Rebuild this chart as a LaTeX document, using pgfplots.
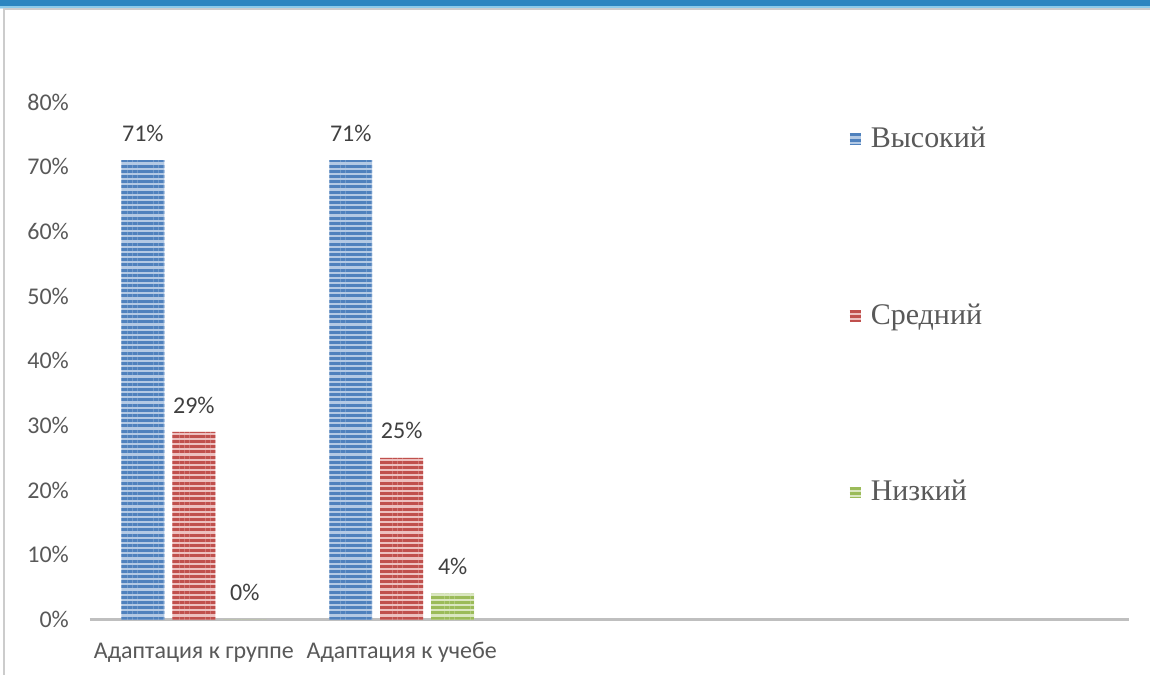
\documentclass[border=0pt]{standalone}
\usepackage{pgfplots}
\pgfplotsset{compat=1.18}
\usepackage{fontspec}
\setmainfont{Carlito}
\newfontfamily\legfont{Liberation Serif}
\usetikzlibrary{patterns.meta}
\definecolor{bdark}{HTML}{4F81BD}
\definecolor{blight}{HTML}{B3C9E4}
\definecolor{rdark}{HTML}{C0504D}
\definecolor{rlight}{HTML}{EDC0BF}
\definecolor{gdark}{HTML}{9BBB59}
\definecolor{glight}{HTML}{DAE7C0}
\definecolor{txt}{HTML}{404040}
\definecolor{tick}{HTML}{595959}
\definecolor{band}{HTML}{2C86C0}
\definecolor{bandl}{HTML}{8CCBEA}
\tikzset{
  stripes/.style={fill=#1light, postaction={pattern={Lines[angle=0,distance=2.6pt,line width=1.5pt]}, pattern color=#1dark}},
}
\begin{document}
\begin{tikzpicture}
\path[fill=white] (0,0) rectangle (575.5pt,337.5pt);
\fill[band] (0,334.5pt) rectangle (575.5pt,337.5pt);
\fill[bandl] (0,333.5pt) rectangle (575.5pt,334.5pt);
\fill[bandl!50] (0,333pt) rectangle (575.5pt,333.5pt);
\draw[gray!40, line width=0.8pt] (2pt,0) -- (2pt,333pt) -- (575.5pt,333pt);
\begin{axis}[
  at={(45pt,27.5pt)}, anchor=south west,
  scale only axis, width=520pt, height=259pt,
  xmin=-0.5, xmax=4.5, ymin=0, ymax=80,
  axis lines*=left,
  y axis line style={draw=none},
  x axis line style={draw=gray!50, line width=1.5pt},
  major tick length=0pt,
  ytick={0,10,...,80},
  yticklabel={\pgfmathprintnumber{\tick}\%},
  /pgf/number format/assume math mode=true,
  yticklabel style={font=\fontsize{12}{14}\selectfont, text=tick, xshift=-7pt},
  xtick={0,1},
  xticklabels={Адаптация к группе, Адаптация к учебе},
  xticklabel style={font=\fontsize{12}{14}\selectfont, text=tick, yshift=-8pt},
  ybar, bar width=21.5pt,
  nodes near coords={\pgfmathprintnumber{\pgfplotspointmeta}\%},
  every node near coord/.append style={font=\fontsize{12}{14}\selectfont, text=txt, anchor=center, yshift=13.5pt},
  legend cell align=left,
  legend style={draw=none, fill=none, at={(0.725,0.967)}, anchor=north west,
    row sep=72.5pt, font=\legfont\fontsize{15}{17}\selectfont, text=tick,
    nodes={inner xsep=5pt}},
]
\addplot[draw=none, stripes=b, bar shift=-25.5pt,
  legend image code/.code={\fill[stripes=b] (0pt,-2.75pt) rectangle (5.5pt,2.75pt);}]
  coordinates {(0,71) (1,71)};
\addlegendentry{Высокий}
\addplot[draw=none, stripes=r, bar shift=0pt,
  legend image code/.code={\fill[stripes=r] (0pt,-2.75pt) rectangle (5.5pt,2.75pt);}]
  coordinates {(0,29) (1,25)};
\addlegendentry{Средний}
\addplot[draw=none, stripes=g, bar shift=25.5pt,
  legend image code/.code={\fill[stripes=g] (0pt,-2.75pt) rectangle (5.5pt,2.75pt);}]
  coordinates {(0,0) (1,4)};
\addlegendentry{Низкий}
\end{axis}
\end{tikzpicture}
\end{document}
